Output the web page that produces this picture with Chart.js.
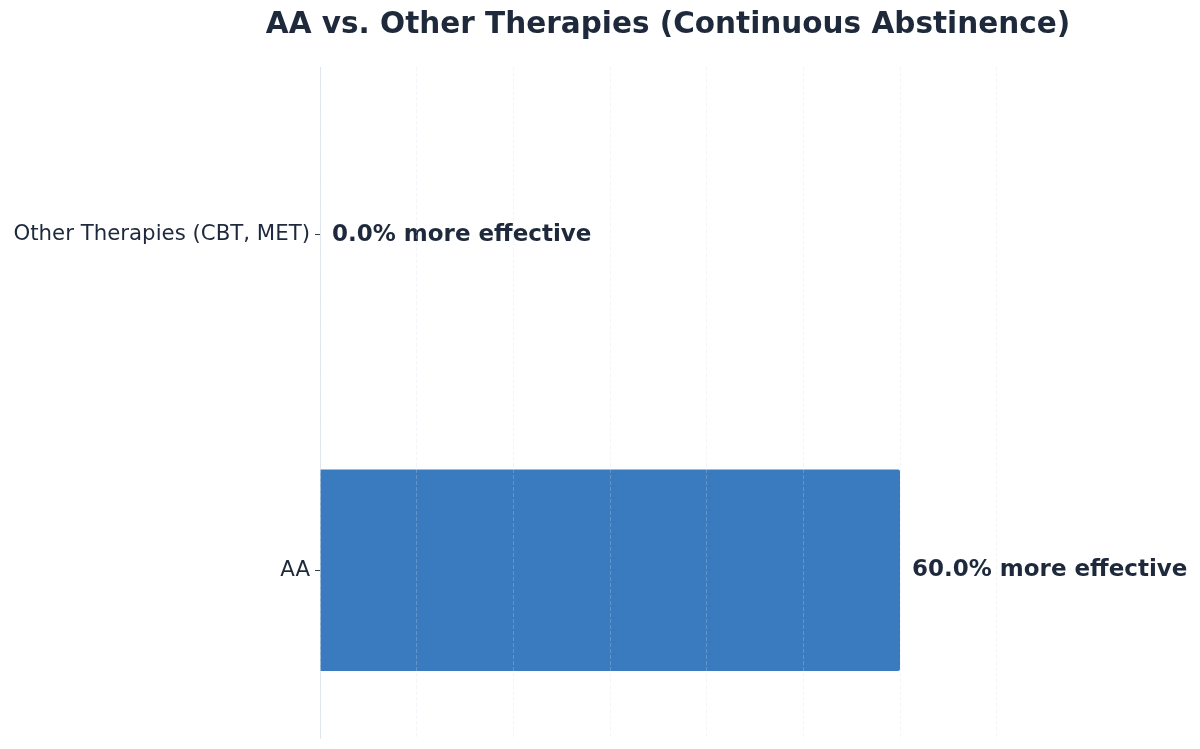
<!DOCTYPE html>
<html>
<head>
<meta charset="utf-8">
<script src="https://cdn.jsdelivr.net/npm/chart.js@4/dist/chart.umd.min.js"></script>
<style>
html,body{margin:0;padding:0;background:#fff;}
#wrap{width:1200px;height:749px;position:relative;}
</style>
</head>
<body>
<div id="wrap"><canvas id="c" width="1200" height="749"></canvas></div>
<script>
const categories = ["Other Therapies (CBT, MET)", "AA"];
const values = [0, 60];
const valueLabels = ["0.0% more effective", "60.0% more effective"];
const titleText = "AA vs. Other Therapies (Continuous Abstinence)";

const FONT = "'DejaVu Sans', sans-serif";
const DARK = "#1e293b";

const titlePlugin = {
  id: 'centerTitle',
  afterDraw(chart) {
    const ctx = chart.ctx, a = chart.chartArea;
    ctx.save();
    ctx.font = "bold 29.5px " + FONT;
    ctx.fillStyle = DARK;
    ctx.textAlign = 'center';
    ctx.textBaseline = 'middle';
    ctx.fillText(titleText, (a.left + a.right) / 2, 25);
    ctx.restore();
  }
};

const labelPlugin = {
  id: 'valueLabels',
  afterDatasetsDraw(chart) {
    const ctx = chart.ctx;
    const meta = chart.getDatasetMeta(0);
    ctx.save();
    ctx.font = "bold 23px " + FONT;
    ctx.fillStyle = DARK;
    ctx.textAlign = 'left';
    ctx.textBaseline = 'middle';
    meta.data.forEach((bar, i) => {
      ctx.fillText(valueLabels[i], bar.x + 12, bar.y);
    });
    ctx.restore();
  }
};

new Chart(document.getElementById('c'), {
  type: 'bar',
  data: {
    labels: categories,
    datasets: [{
      data: values,
      backgroundColor: '#3a7bbf',
      borderWidth: 0,
      borderRadius: {topRight: 2, bottomRight: 2, topLeft: 0, bottomLeft: 0},
      borderSkipped: false,
      barPercentage: 0.6,
      categoryPercentage: 1.0
    }]
  },
  options: {
    indexAxis: 'y',
    responsive: false,
    animation: false,
    layout: {padding: {top: 67, right: 184, bottom: 11, left: 0}},
    plugins: {legend: {display: false}, tooltip: {enabled: false}, title: {display: false}},
    scales: {
      x: {
        min: 0, max: 72,
        afterFit(scale) { scale.height = 0; scale.paddingLeft = 0; scale.paddingRight = 0; },
        ticks: {display: false, stepSize: 10, includeBounds: false},
        border: {display: false, dash: [4, 2]},
        grid: {color: 'rgba(210,220,232,0.28)', lineWidth: 1, drawTicks: false, z: 1}
      },
      y: {
        afterFit(scale) { scale.width = 320; scale.paddingTop = 0; scale.paddingBottom = 0; },
        border: {display: true, color: '#e2e8f0', width: 1},
        grid: {offset: false, drawOnChartArea: false, drawTicks: true, tickLength: 5, color: '#334155'},
        ticks: {font: {family: FONT, size: 21.3}, color: DARK, padding: 5}
      }
    }
  },
  plugins: [titlePlugin, labelPlugin]
});
</script>
</body>
</html>
